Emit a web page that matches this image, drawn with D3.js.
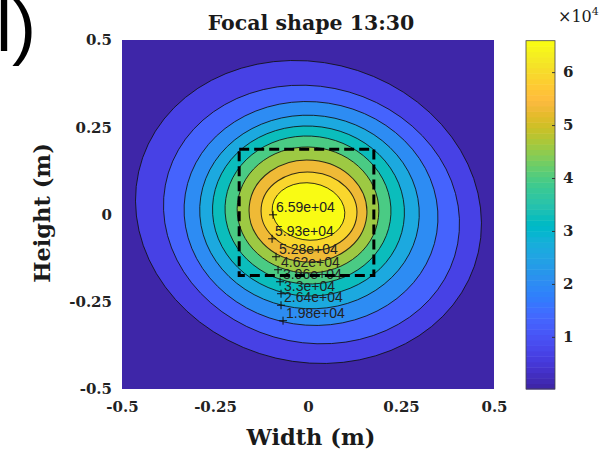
<!DOCTYPE html>
<html>
<head>
<meta charset="utf-8">
<script src="https://cdn.jsdelivr.net/npm/d3@7"></script>
<style>
  body { margin: 0; background: #fff; }
  text { fill: #1a1a1a; }
</style>
</head>
<body>
<svg id="chart" width="615" height="459"></svg>
<script>
// contour levels (10 filled bands) and colour limits
const levels = [6594, 13188, 19782, 26376, 32970, 39564, 46158, 52752, 59346, 65940];
const cMin = 150, cMax = 65940;

const ellCx = [0.0013, 0.0094, 0.0081, 0.0040, 0.0013, 0.0000, 0.0000, 0.0000, 0.0027, 0.0013];
const ellCy = [0.0072, 0.0000, 0.0029, 0.0072, 0.0100, 0.0129, 0.0129, 0.0100, 0.0086, 0.0086];
const ellRx = [0.4726, 0.4032, 0.3427, 0.2955, 0.2583, 0.2233, 0.1906, 0.1585, 0.1290, 0.0982];
const ellRy = [0.4259, 0.3648, 0.3193, 0.2770, 0.2433, 0.2118, 0.1804, 0.1461, 0.1131, 0.0818];
const ellAngle = [-24.3, -22.3, -14.6, -8.3, -8.5, -8.5, -6.4, -5.3, -5.3, -10.6];

// clabel markers (level index, position in m)
const labelLevel = [9, 8, 7, 6, 5, 4, 3, 2];
const markerX = [-0.0939, -0.0966, -0.0859, -0.0805, -0.0751, -0.0725, -0.0725, -0.0671];
const markerY = [-0.0009, -0.0696, -0.1211, -0.1583, -0.1927, -0.2270, -0.2600, -0.3043];

// dashed region
const boxX = [-0.185, 0.177];
const boxY = [-0.175, 0.187];

const xTicks = [-0.5, -0.25, 0, 0.25, 0.5];
const yTicks = [-0.5, -0.25, 0, 0.25, 0.5];
const cbTicks = [10000, 20000, 30000, 40000, 50000, 60000];

// parula, 64 entries
const parula = ["#3e26a8","#402ab4","#422ebf","#4432cb","#4537d5","#463cde","#4741e5","#4847eb",
  "#484df0","#4852f4","#4758f8","#465efb","#4563fd","#4269fe","#3e6fff","#3875fe",
  "#327cfc","#2f81fa","#2e87f7","#2d8cf3","#2b91ef","#2796eb","#259be8","#23a0e5",
  "#20a5e2","#1ca9df","#18addb","#12b1d6","#08b5d0","#01b8ca","#02bac3","#0bbdbc",
  "#19bfb6","#24c1ae","#2cc4a7","#31c69f","#37c897","#3fca8e","#4acb84","#57cc7a",
  "#64cd6f","#72cd64","#81cc59","#8fcb4e","#9dc943","#abc739","#b9c431","#c5c22a",
  "#d1bf27","#dcbd29","#e6bb2d","#efba36","#f8ba3d","#febe3c","#fec338","#fec934",
  "#fccf30","#f9d62d","#f7dc2a","#f5e327","#f5e924","#f5ef20","#f7f51b","#f9fb14"];

function colorOf(v) {
  let i = Math.floor((v - cMin) / (cMax - cMin) * parula.length);
  return parula[Math.max(0, Math.min(parula.length - 1, i))];
}

const serif = "'DejaVu Serif', serif";
const svg = d3.select("#chart");

const x = d3.scaleLinear().domain([-0.5, 0.5]).range([122, 494]);
const y = d3.scaleLinear().domain([-0.5, 0.5]).range([389, 40]);
const kx = x(1) - x(0), ky = y(0) - y(1);

svg.append("clipPath").attr("id", "plotClip")
  .append("rect")
  .attr("x", x(-0.5)).attr("y", y(0.5))
  .attr("width", x(0.5) - x(-0.5)).attr("height", y(-0.5) - y(0.5));

let plot = svg.append("g").attr("clip-path", "url(#plotClip)");

plot.append("rect")
  .attr("x", x(-0.5)).attr("y", y(0.5))
  .attr("width", x(0.5) - x(-0.5)).attr("height", y(-0.5) - y(0.5))
  .attr("fill", colorOf(cMin));

// filled bands, outer first; ellipse drawn in data units then mapped by the scales
plot.selectAll(".band")
  .data(levels)
  .enter()
  .append("ellipse")
  .attr("class", "band")
  .attr("transform", (d, i) => "translate(" + x(ellCx[i]) + "," + y(ellCy[i]) + ")scale(" + kx + "," + (-ky) + ")rotate(" + ellAngle[i] + ")")
  .attr("rx", (d, i) => ellRx[i])
  .attr("ry", (d, i) => ellRy[i])
  .attr("fill", d => colorOf(d))
  .attr("stroke", "#111")
  .attr("stroke-opacity", 0.85)
  .attr("stroke-width", 1)
  .attr("vector-effect", "non-scaling-stroke");

// clabel style: '+' marker and text
let fmt = v => d3.format(".2~e")(v).replace(/e([+-])(\d)$/, "e$10$2");

let labels = plot.selectAll(".clabel")
  .data(labelLevel)
  .enter()
  .append("g")
  .attr("class", "clabel")
  .attr("transform", (d, i) => "translate(" + x(markerX[i]) + "," + y(markerY[i]) + ")");

labels.append("path")
  .attr("d", "M-4,0H4M0,-4V4")
  .attr("stroke", "#111")
  .attr("stroke-width", 1);

labels.append("text")
  .attr("x", 3)
  .attr("y", -3)
  .attr("font-family", "'Liberation Sans', Arial, sans-serif")
  .attr("font-size", 14)
  .style("fill", "#222")
  .text(d => fmt(levels[d]));

plot.append("rect")
  .attr("x", x(boxX[0])).attr("y", y(boxY[1]))
  .attr("width", x(boxX[1]) - x(boxX[0]))
  .attr("height", y(boxY[0]) - y(boxY[1]))
  .attr("fill", "none")
  .attr("stroke", "#000")
  .attr("stroke-width", 3)
  .attr("stroke-dasharray", "10,5");

// axes
svg.append("g")
  .attr("transform", "translate(0," + y(-0.5) + ")")
  .call(d3.axisBottom(x).tickValues(xTicks).tickSize(0).tickPadding(12).tickFormat(d => String(d)));

svg.append("g")
  .attr("transform", "translate(" + x(-0.5) + ",0)")
  .call(d3.axisLeft(y).tickValues(yTicks).tickSize(0).tickPadding(10).tickFormat(d => String(d)));

svg.selectAll(".domain").remove();
svg.selectAll(".tick text")
  .attr("font-family", serif)
  .attr("font-weight", "bold")
  .attr("font-size", 15)
  .style("fill", "#222");

svg.append("text")
  .attr("x", 311).attr("y", 30)
  .attr("text-anchor", "middle")
  .attr("font-family", serif)
  .attr("font-weight", "bold")
  .attr("font-size", 20.5)
  .text("Focal shape 13:30");

svg.append("text")
  .attr("x", 311).attr("y", 445)
  .attr("text-anchor", "middle")
  .attr("font-family", serif)
  .attr("font-weight", "bold")
  .attr("font-size", 22.5)
  .text("Width (m)");

svg.append("text")
  .attr("transform", "translate(50,213)rotate(-90)")
  .attr("text-anchor", "middle")
  .attr("font-family", serif)
  .attr("font-weight", "bold")
  .attr("font-size", 22.5)
  .text("Height (m)");

// colorbar
let cb = d3.scaleLinear().domain([cMin, cMax]).range([389, 40.7]);
let cbX = 526, cbW = 29;
let step = (cMax - cMin) / parula.length;

svg.append("g")
  .selectAll("rect")
  .data(parula)
  .enter()
  .append("rect")
  .attr("x", cbX)
  .attr("y", (d, i) => cb(cMin + (i + 1) * step))
  .attr("width", cbW)
  .attr("height", (d, i) => cb(cMin + i * step) - cb(cMin + (i + 1) * step) + 0.5)
  .attr("fill", d => d);

svg.append("rect")
  .attr("x", cbX).attr("y", cb(cMax))
  .attr("width", cbW).attr("height", cb(cMin) - cb(cMax))
  .attr("fill", "none")
  .attr("stroke", "#444")
  .attr("stroke-width", 0.8);

let cbAxis = svg.append("g")
  .attr("transform", "translate(" + (cbX + cbW) + ",0)")
  .call(d3.axisRight(cb).tickValues(cbTicks).tickSizeInner(-3).tickSizeOuter(0).tickPadding(8).tickFormat(d => d / 1e4));

cbAxis.select(".domain").remove();
cbAxis.selectAll(".tick line").attr("stroke", "#333");
cbAxis.selectAll(".tick text")
  .attr("font-family", serif)
  .attr("font-weight", "bold")
  .attr("font-size", 15)
  .style("fill", "#222");

let mult = svg.append("text")
  .attr("x", 558).attr("y", 22)
  .attr("font-family", serif)
  .attr("font-size", 16);
mult.append("tspan").text("\u00d710");
mult.append("tspan").attr("dy", -7).attr("font-size", 11).text("4");

// panel tag, cut by the page edge
svg.append("text")
  .attr("x", -4).attr("y", 51)
  .attr("font-family", "'Liberation Sans', Arial, sans-serif")
  .attr("font-size", 72)
  .style("fill", "#000")
  .text("l)");
</script>
</body>
</html>
